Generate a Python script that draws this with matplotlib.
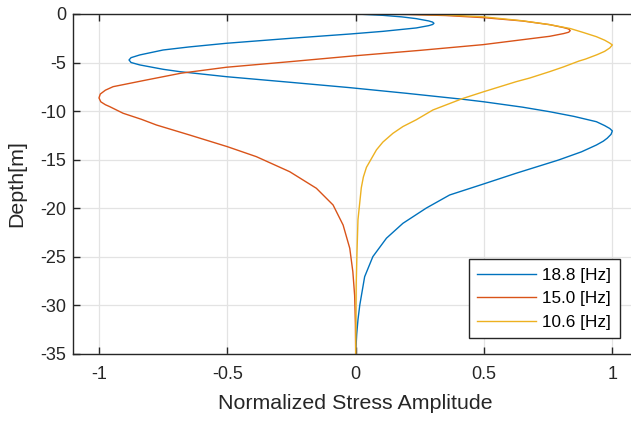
import numpy as np
import matplotlib.pyplot as plt

# normalized stress amplitude vs depth
depth_188 = [0, -0.14, -0.3, -0.48, -0.72, -0.84, -0.96, -1.08, -1.2, -1.44, -1.79, -2.06,
             -2.5, -3.02, -3.4, -3.71, -4.22, -4.5, -4.74, -5.0, -5.25, -5.7, -5.94, -6.46,
             -7.05, -7.59, -8.17, -8.79, -9.05, -9.6, -10.07, -10.55, -11.1, -11.5, -11.8,
             -12.05, -12.4, -12.8, -13.1, -13.5, -14.2, -15.05, -16.42, -17.5, -18.65, -20.0,
             -21.57, -23.1, -25.0, -27.07, -30.0, -31.5, -33.0, -35]
amp_188 = [0, 0.106, 0.18, 0.236, 0.285, 0.3, 0.305, 0.3, 0.285, 0.236, 0.106, -0.02,
           -0.25, -0.504, -0.65, -0.75, -0.841, -0.875, -0.883, -0.875, -0.841, -0.75, -0.686, -0.504,
           -0.25, -0.023, 0.197, 0.418, 0.5, 0.65, 0.756, 0.85, 0.938, 0.97, 0.99,
           1.0, 0.995, 0.98, 0.965, 0.938, 0.88, 0.79, 0.624, 0.5, 0.366, 0.275,
           0.184, 0.12, 0.067, 0.035, 0.016, 0.009, 0.004, 0]

depth_150 = [0, -0.05, -0.16, -0.38, -0.72, -1.1, -1.4, -1.55, -1.72, -1.88, -2.02, -2.3,
             -2.65, -3.16, -3.75, -4.3, -4.9, -5.49, -6.1, -6.8, -7.49, -7.85, -8.25, -8.65,
             -9.05, -9.35, -9.55, -10.23, -10.85, -11.44, -12.47, -13.67, -14.7, -16.25,
             -17.96, -19.68, -21.74, -24.14, -26.55, -29, -32, -35]
amp_150 = [0, 0.2, 0.35, 0.5, 0.65, 0.756, 0.81, 0.83, 0.836, 0.83, 0.81, 0.756,
           0.65, 0.496, 0.25, 0.0, -0.25, -0.504, -0.68, -0.815, -0.945, -0.975, -0.995, -1.0,
           -0.993, -0.975, -0.958, -0.906, -0.835, -0.776, -0.647, -0.5, -0.387, -0.257,
           -0.153, -0.088, -0.049, -0.023, -0.011, -0.004, -0.001, 0]

depth_106 = [0, -0.03, -0.1, -0.3, -0.7, -1.1, -1.5, -1.9, -2.34, -2.7, -3.0, -3.19, -3.5,
             -3.85, -4.2, -4.65, -4.85, -5.45, -5.94, -6.6, -6.97, -8.0, -8.7, -9.89, -10.9,
             -11.6, -12.3, -13.2, -14.0, -15.2, -15.8, -16.8, -17.9, -21.2, -24.7, -28, -35]
amp_106 = [0, 0.2, 0.35, 0.5, 0.65, 0.756, 0.836, 0.886, 0.938, 0.97, 0.99, 1.0, 0.99,
           0.97, 0.94, 0.895, 0.87, 0.81, 0.756, 0.678, 0.626, 0.5, 0.418, 0.301, 0.236,
           0.184, 0.145, 0.106, 0.081, 0.055, 0.042, 0.03, 0.022, 0.009, 0.005, 0.002, 0]

labels = ['18.8 [Hz]', '15.0 [Hz]', '10.6 [Hz]']
colors = ['#0072BD', '#D95319', '#EDB120']

plt.rcParams['font.family'] = ['Liberation Sans', 'DejaVu Sans']
fg = '#262626'

fig = plt.figure(figsize=(6.31, 4.21), dpi=100)
ax = fig.add_axes([0.1162, 0.1599, 0.8949, 0.8069])

ax.plot(amp_188, depth_188, color=colors[0], lw=1.0, label=labels[0])
ax.plot(amp_150, depth_150, color=colors[1], lw=1.0, label=labels[1])
ax.plot(amp_106, depth_106, color=colors[2], lw=1.0, label=labels[2])

ax.set_xlim(-1.1, 1.1)
ax.set_ylim(-35, 0)
ax.set_xticks([-1, -0.5, 0, 0.5, 1])
ax.set_xticklabels(['-1', '-0.5', '0', '0.5', '1'])
ax.set_yticks(np.arange(-35, 1, 5))
ax.set_yticklabels([str(v) for v in range(-35, 1, 5)])

ax.grid(True, color='#e3e3e3', lw=0.9)
ax.set_axisbelow(True)
for s in ax.spines.values():
    s.set_color(fg)
    s.set_linewidth(1.0)
ax.tick_params(direction='in', length=5, width=1.0, colors=fg, labelsize=13,
               top=True, right=True)
ax.tick_params(axis='x', pad=9)
ax.tick_params(axis='y', pad=5)

ax.set_xlabel('Normalized Stress Amplitude', fontsize=15.4, color=fg, labelpad=8)
ax.set_ylabel('Depth[m]', fontsize=15.4, color=fg, labelpad=10)

leg = ax.legend(loc='lower right', bbox_to_anchor=(0.968, 0.045), borderaxespad=0,
                fontsize=12.3, fancybox=False, framealpha=1, edgecolor=fg,
                handlelength=3.4, handletextpad=0.4, borderpad=0.5, labelspacing=0.5)
leg.get_frame().set_linewidth(1.0)

fig.savefig('out.png', dpi=100)
